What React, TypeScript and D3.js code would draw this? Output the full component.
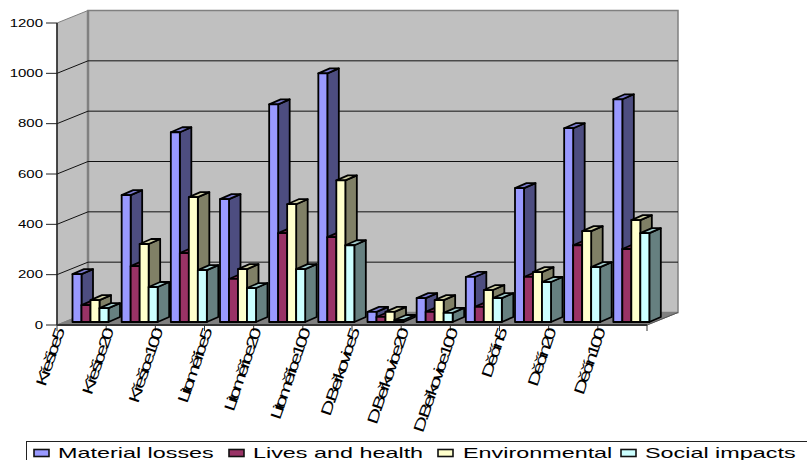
import React from "react";
import * as d3 from "d3";

const categories = [
  "Křešice5", "Křešice20", "Křešice100",
  "Litoměřice5", "Litoměřice20", "Litoměřice100",
  "D.Beřkovice5", "D.Beřkovice20", "D.Beřkovice100",
  "Děčín5", "Děčín20", "Děčín100",
];
const materialLosses = [190, 504, 754, 488, 865, 988, 40, 95, 179, 532, 770, 885];
const livesAndHealth = [67, 222, 274, 171, 353, 337, 20, 40, 60, 179, 305, 290];
const environmental = [87, 310, 496, 210, 468, 563, 40, 87, 127, 198, 361, 405];
const socialImpacts = [55, 139, 206, 135, 210, 305, 8, 36, 95, 159, 218, 353];
const yTicks = [0, 200, 400, 600, 800, 1000, 1200];

const seriesList = [
  { name: "Material losses", values: materialLosses, front: "#9999ff", side: "#4d4d80", top: "#7a7acc" },
  { name: "Lives and health", values: livesAndHealth, front: "#993366", side: "#4d1a33", top: "#7a2952" },
  { name: "Environmental", values: environmental, front: "#ffffcc", side: "#808066", top: "#cccca3" },
  { name: "Social impacts", values: socialImpacts, front: "#ccffff", side: "#668080", top: "#a3cccc" },
];

const W = 807;
const H = 460;
const FONT = "'Liberation Sans', Arial, sans-serif";

// Oblique projection: the back wall is shifted from the front plane by this much.
const DEPTH_X = 31;
const DEPTH_Y = -12.5;
const BAR_DEPTH_X = 11.5;
const BAR_DEPTH_Y = -5;
const BAR_W = 9;
const GROUP_INSET = 15.5;
const BAR_BASE = 322;

const xAxis = d3.scaleLinear().domain([0, categories.length]).range([57, 647]);
const yAxis = d3.scaleLinear().domain([0, 1200]).range([325, 23]);
const barHeight = d3.scaleLinear().domain([0, 1200]).range([0, 302]);

const poly = (pts: [number, number][]) => pts.map((p) => p.join(",")).join(" ");

// Horizontal start of each legend swatch and its label.
const legendSwatchX = [34, 229, 438, 621];
const legendTextX = [58, 253, 463, 645];

function Bar({ x, h, color }: { x: number; h: number; color: (typeof seriesList)[number] }) {
  const y = BAR_BASE - h;
  const x2 = x + BAR_W;
  const dx = BAR_DEPTH_X;
  const dy = BAR_DEPTH_Y;
  const stroke = { stroke: "#000", strokeWidth: 1.8, strokeLinejoin: "round" as const };
  return (
    <g>
      <polygon points={poly([[x2, y], [x2 + dx, y + dy], [x2 + dx, BAR_BASE + dy], [x2, BAR_BASE]])} fill={color.side} {...stroke} />
      <polygon points={poly([[x, y], [x + dx, y + dy], [x2 + dx, y + dy], [x2, y]])} fill={color.top} {...stroke} />
      <rect x={x} y={y} width={BAR_W} height={h} fill={color.front} {...stroke} />
    </g>
  );
}

export default function App() {
  const x0 = xAxis(0);
  const x1 = xAxis(categories.length);
  const y0 = yAxis(0);
  const yTop = yAxis(1200);
  return (
    <svg
      width={W}
      height={H}
      viewBox={`0 0 ${W} ${H}`}
      style={{ position: "absolute", left: 0, top: 0, background: "#fff", display: "block" }}
      fontFamily={FONT}
    >
      {/* side wall, back wall and floor */}
      <polygon points={poly([[x0, yTop], [x0 + DEPTH_X, yTop + DEPTH_Y], [x0 + DEPTH_X, y0 + DEPTH_Y], [x0, y0]])} fill="#c0c0c0" stroke="#808080" strokeWidth={1} />
      <rect x={x0 + DEPTH_X} y={yTop + DEPTH_Y} width={x1 - x0} height={y0 - yTop} fill="#c0c0c0" stroke="#808080" strokeWidth={1.5} />
      <polygon points={poly([[x0, y0], [x0 + DEPTH_X, y0 + DEPTH_Y], [x1 + DEPTH_X, y0 + DEPTH_Y], [x1, y0]])} fill="#808080" stroke="#808080" strokeWidth={1} />
      <line x1={x0 + DEPTH_X} x2={x0 + DEPTH_X} y1={yTop + DEPTH_Y} y2={y0 + DEPTH_Y} stroke="#808080" strokeWidth={2.5} />

      {/* gridlines running along the side and back walls */}
      {yTicks.slice(1, -1).map((t) => (
        <polyline
          key={t}
          points={poly([[x0, yAxis(t)], [x0 + DEPTH_X, yAxis(t) + DEPTH_Y], [x1 + DEPTH_X, yAxis(t) + DEPTH_Y]])}
          fill="none"
          stroke="#111"
          strokeWidth={1}
        />
      ))}

      {/* floor outline at the right */}
      <line x1={x1} y1={y0} x2={x1 + DEPTH_X} y2={y0 + DEPTH_Y} stroke="#555" strokeWidth={1} />

      {/* value axis */}
      <line x1={x0} x2={x0} y1={yTop} y2={y0} stroke="#222" strokeWidth={1.5} />
      {yTicks.map((t) => (
        <g key={t}>
          <line x1={x0 - 11} x2={x0} y1={yAxis(t)} y2={yAxis(t)} stroke="#222" strokeWidth={1} />
          <text
            transform={`translate(${x0 - 14},${yAxis(t) + 3.5}) scale(1.5,1)`}
            textAnchor="end"
            fontSize={10}
            fill="#000"
          >
            {t}
          </text>
        </g>
      ))}

      {/* bars, painted left to right so each front face covers its neighbour's side */}
      {categories.map((c, i) =>
        seriesList.map((s, j) => (
          <Bar
            key={`${c}-${s.name}`}
            x={xAxis(i) + GROUP_INSET + j * BAR_W}
            h={barHeight(s.values[i])}
            color={s}
          />
        ))
      )}

      {/* category axis */}
      <line x1={x0} x2={x1} y1={y0} y2={y0} stroke="#333" strokeWidth={2} />
      {d3.range(categories.length + 1).map((i) => (
        <line key={i} x1={xAxis(i)} x2={xAxis(i)} y1={y0} y2={y0 + 6} stroke="#333" strokeWidth={1} />
      ))}
      {categories.map((c, i) => (
        <text
          key={c}
          transform={`translate(${xAxis(i) + 7},${y0 + 8}) rotate(-71) scale(1.5,1)`}
          textAnchor="end"
          fontSize={15}
          letterSpacing={-2.5}
          fill="#000"
        >
          {c}
        </text>
      ))}

      {/* legend */}
      <rect x={26.5} y={441.5} width={W} height={H} fill="#fff" stroke="#222" strokeWidth={1} />
      {seriesList.map((s, i) => (
        <g key={s.name}>
          <rect x={legendSwatchX[i]} y={449.5} width={15} height={7} fill={s.front} stroke="#111" strokeWidth={1.6} />
          <text transform={`translate(${legendTextX[i]},457.5) scale(1.67,1)`} fontSize={14} fill="#000">
            {s.name}
          </text>
        </g>
      ))}
    </svg>
  );
}
